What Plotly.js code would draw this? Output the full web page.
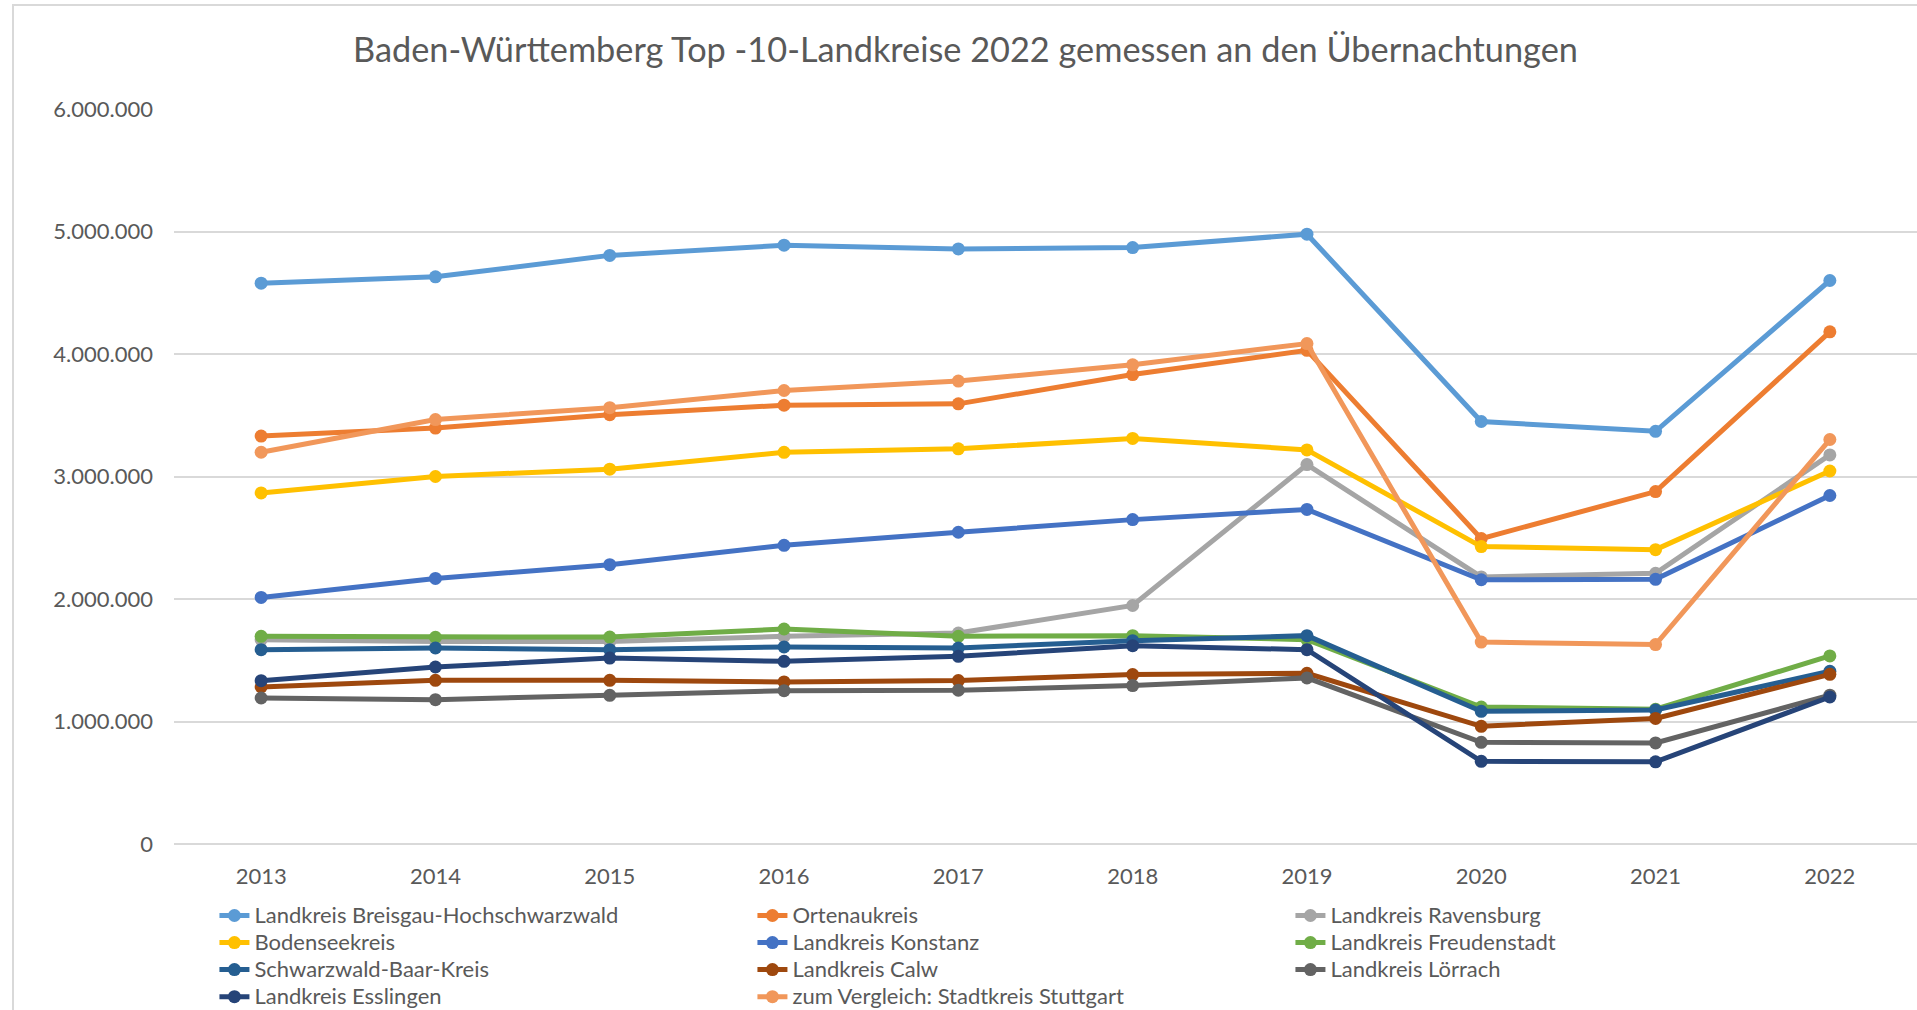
<!DOCTYPE html>
<html>
<head>
<meta charset="utf-8">
<script src="https://cdn.plot.ly/plotly-3.0.1.min.js"></script>
<style>
html, body { margin: 0; padding: 0; background: #fff; overflow: hidden; width: 1917px; height: 1010px; }
#chart { position: absolute; left: 12px; top: 4px; width: 1905px; height: 1006px;
  border-left: 2px solid #d9d9d9; border-top: 2px solid #d9d9d9; }
</style>
</head>
<body>
<div id="chart"></div>
<script>
const years = ['2013','2014','2015','2016','2017','2018','2019','2020','2021','2022'];

const breisgau     = [4578000, 4630000, 4805000, 4888000, 4858000, 4869000, 4978000, 3449000, 3369000, 4600000];
const ortenau      = [3330000, 3395000, 3505000, 3582000, 3593000, 3832000, 4030000, 2493000, 2877000, 4181000];
const ravensburg   = [1668000, 1654000, 1654000, 1695000, 1722000, 1947000, 3097000, 2180000, 2210000, 3176000];
const bodensee     = [2866000, 3000000, 3060000, 3197000, 3226000, 3311000, 3217000, 2428000, 2403000, 3045000];
const konstanz     = [2013000, 2168000, 2280000, 2438000, 2545000, 2648000, 2731000, 2157000, 2161000, 2845000];
const freudenstadt = [1695000, 1687000, 1689000, 1755000, 1695000, 1701000, 1668000, 1118000, 1100000, 1535000];
const schwarzwald  = [1586000, 1600000, 1586000, 1608000, 1600000, 1660000, 1701000, 1083000, 1094000, 1410000];
const calw         = [1282000, 1336000, 1336000, 1323000, 1334000, 1383000, 1394000, 961000, 1025000, 1385000];
const loerrach     = [1192000, 1178000, 1214000, 1252000, 1255000, 1293000, 1356000, 830000, 825000, 1215000];
const esslingen    = [1333000, 1445000, 1518000, 1491000, 1532000, 1619000, 1586000, 675000, 671000, 1200000];
const stuttgart    = [3198000, 3465000, 3562000, 3702000, 3779000, 3912000, 4085000, 1648000, 1628000, 3302000];

const seriesNames = [
  'Landkreis Breisgau-Hochschwarzwald', 'Ortenaukreis', 'Landkreis Ravensburg',
  'Bodenseekreis', 'Landkreis Konstanz', 'Landkreis Freudenstadt',
  'Schwarzwald-Baar-Kreis', 'Landkreis Calw', 'Landkreis Lörrach',
  'Landkreis Esslingen', 'zum Vergleich: Stadtkreis Stuttgart'
];
const seriesValues = [breisgau, ortenau, ravensburg, bodensee, konstanz, freudenstadt,
  schwarzwald, calw, loerrach, esslingen, stuttgart];
const seriesColors = ['#5B9BD5', '#ED7D31', '#A5A5A5', '#FFC000', '#4472C4', '#70AD47',
  '#255E91', '#9E480E', '#636363', '#264478', '#F1975A'];

const FONT = 'Lato, "Open Sans", sans-serif';

const traces = seriesNames.map((name, i) => ({
  type: 'scatter',
  mode: 'lines+markers',
  name: '<span style="font-size:22px">' + name + '</span>',
  x: years,
  y: seriesValues[i],
  line: { color: seriesColors[i], width: 5 },
  marker: { color: seriesColors[i], size: 13 }
}));

const layout = {
  width: 1903,
  height: 1004,
  margin: { l: 160, r: 0, t: 103, b: 166, autoexpand: false },
  paper_bgcolor: '#ffffff',
  plot_bgcolor: '#ffffff',
  separators: ',.',
  font: { family: FONT, color: '#595959', size: 22 },
  title: {
    text: 'Baden-Württemberg Top -10-Landkreise 2022 gemessen an den Übernachtungen',
    font: { family: FONT, size: 34.3, color: '#595959' },
    xref: 'container', x: 0.5, xanchor: 'center',
    yref: 'container', y: 1 - 44 / 1004, yanchor: 'middle'
  },
  xaxis: {
    type: 'category',
    range: [-0.5, 9.5],
    showgrid: false,
    zeroline: false,
    showline: false,
    ticks: '',
    ticklabelstandoff: 17,
    tickfont: { family: FONT, size: 22, color: '#595959' }
  },
  yaxis: {
    range: [0, 6000000],
    dtick: 1000000,
    tickformat: ',d',
    showgrid: true,
    gridcolor: '#d9d9d9',
    gridwidth: 1.5,
    zeroline: true,
    zerolinecolor: '#d9d9d9',
    zerolinewidth: 1.5,
    showline: false,
    ticks: '',
    ticklabelstandoff: 20,
    tickfont: { family: FONT, size: 22, color: '#595959' }
  },
  showlegend: true,
  legend: {
    orientation: 'h',
    x: 0.0232, xanchor: 'left',
    y: -0.0721, yanchor: 'top',
    entrywidth: 493,
    entrywidthmode: 'pixels',
    traceorder: 'normal',
    font: { family: FONT, size: 18.5, color: '#595959' },
    bgcolor: 'rgba(0,0,0,0)'
  }
};

Plotly.newPlot('chart', traces, layout, { displayModeBar: false, responsive: false });
</script>
</body>
</html>
